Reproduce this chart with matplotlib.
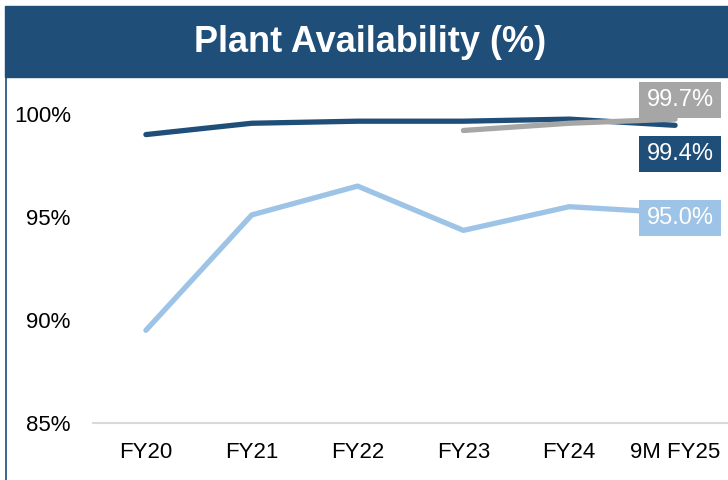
import matplotlib.pyplot as plt
from matplotlib.patches import Rectangle
from matplotlib.lines import Line2D

years = ["FY20", "FY21", "FY22", "FY23", "FY24", "9M FY25"]
dark_vals = [99.0, 99.55, 99.65, 99.65, 99.75, 99.45]
light_vals = [89.5, 95.1, 96.5, 94.35, 95.5, 95.2]
grey_years = ["FY23", "FY24", "9M FY25"]
grey_vals = [99.2, 99.55, 99.75]
yticks = [85, 90, 95, 100]

DARK = "#1F4E79"
LIGHT = "#9DC3E6"
GREY = "#A6A6A6"

plt.rcParams['font.family'] = ['Liberation Sans', 'DejaVu Sans']

fig = plt.figure(figsize=(7.28, 4.8), dpi=100)

# title bar
fig.patches.append(Rectangle((5 / 728, 1 - 77 / 480), 1 - 5 / 728, 71 / 480,
                             transform=fig.transFigure, color=DARK, zorder=0))
fig.text(0.508, 1 - 43 / 480, "Plant Availability (%)", color="white",
         fontsize=26, fontweight="bold", ha="center", va="center")
# left border line
fig.lines.append(Line2D([6 / 728, 6 / 728], [0, 1 - 33 / 480],
                        transform=fig.transFigure, color=DARK, lw=1.2))

ax = fig.add_axes([93 / 728, 1 - 423 / 480, 1 - 93 / 728, 329 / 480])
x = list(range(len(years)))
gx = [years.index(y) for y in grey_years]

ax.plot(x, light_vals, color=LIGHT, lw=3.8, solid_capstyle="round")
ax.plot(x, dark_vals, color=DARK, lw=3.8, solid_capstyle="round")
ax.plot(gx, grey_vals, color=GREY, lw=3.8, solid_capstyle="round")

ax.set_xlim(-0.5, 5.5)
ax.set_ylim(85, 100.97)
ax.set_xticks(x)
ax.set_xticklabels(years)
ax.set_yticks(yticks)
ax.set_yticklabels([f"{v}%" for v in yticks])
ax.tick_params(axis="both", length=0, labelsize=16)
ax.tick_params(axis="y", pad=16)
ax.tick_params(axis="x", pad=14)
for s in ["top", "right", "left"]:
    ax.spines[s].set_visible(False)
ax.spines["bottom"].set_color("#D9D9D9")
ax.spines["bottom"].set_linewidth(1.5)

def tag(xv, yv, txt, col, dy):
    ax.annotate(txt, (xv, yv), xytext=(5, dy), textcoords="offset pixels",
                ha="center", va="center", color="white", fontsize=17,
                bbox=dict(boxstyle="square,pad=0.3", fc=col, ec="none"))

tag(gx[-1], grey_vals[-1], "99.7%", GREY, 19)
tag(x[-1], dark_vals[-1], "99.4%", DARK, -29)
tag(x[-1], light_vals[-1], "95.0%", LIGHT, -5)

fig.savefig("out.png", dpi=100)
